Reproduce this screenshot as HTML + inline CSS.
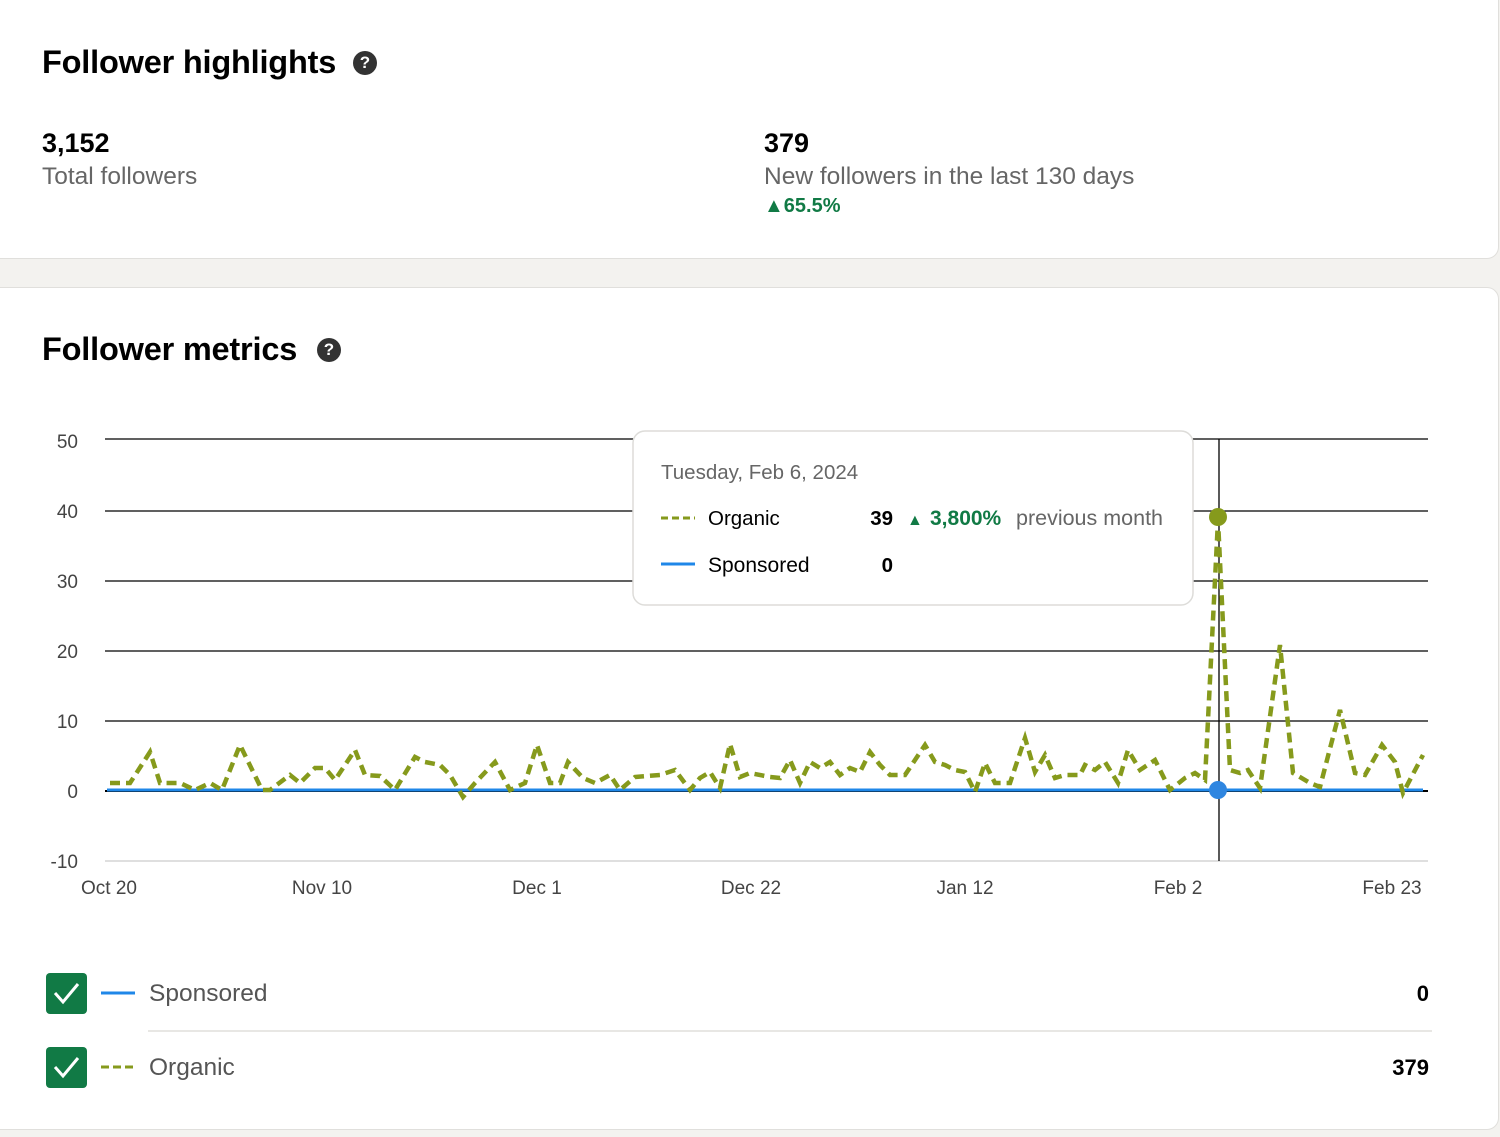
<!DOCTYPE html>
<html><head><meta charset="utf-8"><style>
*{margin:0;padding:0;box-sizing:border-box}
body{width:1500px;height:1137px;background:#f3f2ef;font-family:"Liberation Sans",sans-serif;position:relative;overflow:hidden}
.card{position:absolute;background:#fff;border:1px solid #e0dfdc;border-radius:12px}
.t{position:absolute;white-space:nowrap}
.h{font-size:32.5px;font-weight:bold;color:#000;letter-spacing:-0.2px}
.q{position:absolute;width:24px;height:24px;border-radius:50%;background:#333;color:#fff;font-size:17px;font-weight:bold;text-align:center;line-height:24px}
.cb{position:absolute;width:41px;height:41px;background:#117a45;border-radius:4px}
</style></head><body>
<div class="card" style="left:-12px;top:-12px;width:1511px;height:271px"></div>
<div class="card" style="left:-12px;top:287px;width:1511px;height:843px"></div>

<div class="t h" style="left:42px;top:44px">Follower highlights</div>
<div class="q" style="left:353px;top:51px">?</div>
<div class="t" style="left:42px;top:128px;font-size:27px;font-weight:bold">3,152</div>
<div class="t" style="left:42px;top:163px;font-size:24.5px;color:#666">Total followers</div>
<div class="t" style="left:764px;top:128px;font-size:27px;font-weight:bold">379</div>
<div class="t" style="left:764px;top:163px;font-size:24.5px;color:#666">New followers in the last 130 days</div>
<div class="t" style="left:764px;top:195px;font-size:20px;color:#117a45;font-weight:bold">▲65.5%</div>

<div class="t h" style="left:42px;top:331px">Follower metrics</div>
<div class="q" style="left:317px;top:338px">?</div>

<svg style="position:absolute;left:0;top:0" width="1500" height="1137">
<g stroke="#000" stroke-width="1.3">
<line x1="105" x2="1428" y1="439" y2="439"/><line x1="105" x2="1428" y1="511" y2="511"/>
<line x1="105" x2="1428" y1="581" y2="581"/><line x1="105" x2="1428" y1="651" y2="651"/>
<line x1="105" x2="1428" y1="721" y2="721"/><line x1="105" x2="1428" y1="791" y2="791" stroke-width="2"/>
<line x1="105" x2="1428" y1="861" y2="861" stroke="#ccc"/>
<line x1="1219" x2="1219" y1="439" y2="861"/>
</g>
<g font-family="Liberation Sans" font-size="19" fill="#444" text-anchor="end">
<text x="78" y="448">50</text><text x="78" y="518">40</text><text x="78" y="588">30</text><text x="78" y="658">20</text><text x="78" y="728">10</text><text x="78" y="798">0</text><text x="78" y="868">-10</text>
</g>
<g font-family="Liberation Sans" font-size="19" fill="#444" text-anchor="middle">
<text x="109" y="894">Oct 20</text><text x="322" y="894">Nov 10</text><text x="537" y="894">Dec 1</text><text x="751" y="894">Dec 22</text><text x="965" y="894">Jan 12</text><text x="1178" y="894">Feb 2</text><text x="1392" y="894">Feb 23</text>
</g>
<line x1="107" x2="1423" y1="790" y2="790" stroke="#1f87e8" stroke-width="3"/>
<polyline fill="none" stroke="#869a1c" stroke-width="4.5" stroke-dasharray="10 6" points="110,783 130,783 150,752 160,783 180,783 195,790 210,783 222,790 240,745 262,790 270,790 290,775 300,783 315,768 325,768 335,780 355,750 365,775 380,776 395,790 415,757 425,762 440,765 450,775 463,797 475,783 495,762 510,790 525,783 537,745 550,783 560,783 568,762 583,778 595,783 610,775 620,790 635,777 660,775 675,770 690,790 700,778 710,772 720,788 730,744 740,777 750,773 770,777 780,778 790,760 800,783 810,762 820,768 830,762 840,775 850,768 860,772 870,752 880,765 890,775 905,775 925,745 935,762 945,765 955,770 965,772 975,792 985,763 995,783 1010,783 1025,738 1035,772 1045,755 1055,778 1065,775 1080,775 1085,765 1095,770 1105,762 1118,783 1128,750 1140,770 1155,760 1170,790 1185,778 1195,773 1205,780 1218,520 1230,770 1240,773 1248,770 1260,788 1280,645 1293,773 1310,783 1320,787 1340,710 1355,773 1365,775 1382,745 1395,762 1403,793 1423,755"/>
<circle cx="1218" cy="517" r="9" fill="#869a1c"/>
<circle cx="1218" cy="790" r="9" fill="#2f86e0"/>
<rect x="633" y="431" width="560" height="174" rx="12" fill="#fff" stroke="#dddcd9" stroke-width="1.5"/>
<g font-family="Liberation Sans">
<text x="661" y="479" font-size="20.5" fill="#666">Tuesday, Feb 6, 2024</text>
<line x1="661" x2="695" y1="518" y2="518" stroke="#869a1c" stroke-width="3" stroke-dasharray="7 4"/>
<text x="708" y="525" font-size="20.5" fill="#000">Organic</text>
<text x="893" y="525" font-size="20.5" font-weight="bold" fill="#000" text-anchor="end">39</text>
<text x="907" y="525" font-size="16" fill="#117a45">▲</text>
<text x="930" y="525" font-size="21" font-weight="bold" fill="#117a45">3,800%</text>
<text x="1016" y="525" font-size="21.5" fill="#666">previous month</text>
<line x1="661" x2="695" y1="564" y2="564" stroke="#1f87e8" stroke-width="3"/>
<text x="708" y="572" font-size="21" fill="#000">Sponsored</text>
<text x="893" y="572" font-size="20.5" font-weight="bold" fill="#000" text-anchor="end">0</text>
</g>
<line x1="101" x2="135" y1="993" y2="993" stroke="#1f87e8" stroke-width="3"/>
<line x1="101" x2="135" y1="1067" y2="1067" stroke="#869a1c" stroke-width="3" stroke-dasharray="8 4"/>
<line x1="148" x2="1432" y1="1031" y2="1031" stroke="#e8e7e4" stroke-width="2"/>
</svg>
<div class="cb" style="left:46px;top:973px"></div>
<div class="cb" style="left:46px;top:1047px"></div>
<svg style="position:absolute;left:0;top:0" width="1500" height="1137"><g fill="none" stroke="#fff" stroke-width="3"><polyline points="55,993 63,1002 78,984"/><polyline points="55,1067 63,1076 78,1058"/></g></svg>
<div class="t" style="left:149px;top:980px;font-size:24.5px;color:#555">Sponsored</div>
<div class="t" style="left:149px;top:1054px;font-size:24.5px;color:#555">Organic</div>
<div class="t" style="right:71px;top:981px;font-size:22px;font-weight:bold">0</div>
<div class="t" style="right:71px;top:1055px;font-size:22px;font-weight:bold">379</div>
</body></html>
